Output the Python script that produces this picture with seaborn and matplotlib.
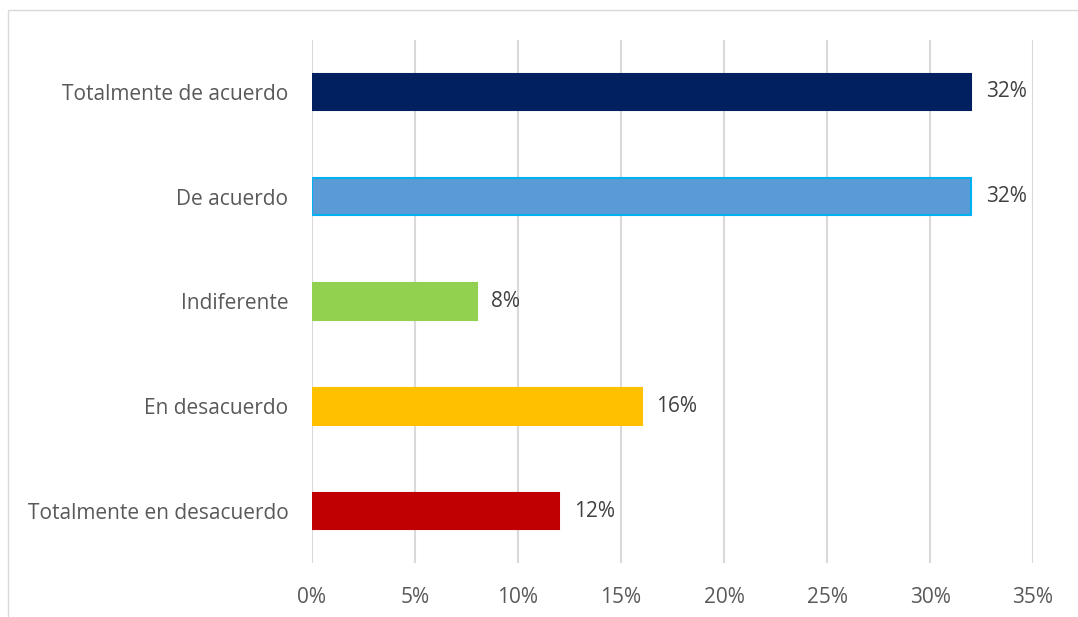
import pandas as pd
import matplotlib.pyplot as plt
import seaborn as sns
from matplotlib.patches import Rectangle
from matplotlib.ticker import PercentFormatter

# Data
categories = ["Totalmente de acuerdo", "De acuerdo", "Indiferente",
              "En desacuerdo", "Totalmente en desacuerdo"]
values = [32, 32, 8, 16, 12]
colors = ["#002060", "#5B9BD5", "#92D050", "#FFC000", "#C00000"]
edges = ["#002060", "#00B0F0", "#92D050", "#FFC000", "#C00000"]
x_ticks = [0, 5, 10, 15, 20, 25, 30, 35]

df = pd.DataFrame({"Respuesta": categories, "Porcentaje": values})

sns.set_style("white")
plt.rcParams['font.family'] = ['Open Sans', 'DejaVu Sans']

fig = plt.figure(figsize=(10.78, 6.17), dpi=100)
ax = fig.add_axes([0.2894, 0.0869, 0.6689, 0.8489])

sns.barplot(
    data=df,
    x="Porcentaje",
    y="Respuesta",
    hue="Respuesta",
    palette=colors,
    saturation=1,
    orient="h",
    width=0.35,
    legend=False,
    ax=ax
)

for patch, ec in zip(ax.patches, edges):
    patch.set_edgecolor(ec)
    patch.set_linewidth(1.5)

# Value labels
for i, v in enumerate(values):
    ax.text(v + 0.7, i, f"{v}%", va="center", ha="left",
            fontsize=15, color="#404040")

ax.set_xlim(0, 35)
ax.set_ylim(4.5, -0.5)
ax.set_xticks(x_ticks)
ax.xaxis.set_major_formatter(PercentFormatter(decimals=0))
ax.grid(axis="x", color="#D9D9D9", linewidth=1.5)
ax.set_axisbelow(True)
ax.tick_params(axis="both", length=0, labelsize=15, labelcolor="#595959")
ax.tick_params(axis="x", pad=17)
ax.tick_params(axis="y", pad=17)
ax.set_xlabel("")
ax.set_ylabel("")
sns.despine(ax=ax, left=True, bottom=True)

# Chart border
fig.patches.append(Rectangle((8 / 1078, -0.01), 1.0, 1 - 10 / 617 + 0.01,
                             transform=fig.transFigure, fill=False,
                             edgecolor="#D9D9D9", linewidth=1))

fig.savefig("out.png", dpi=100)
